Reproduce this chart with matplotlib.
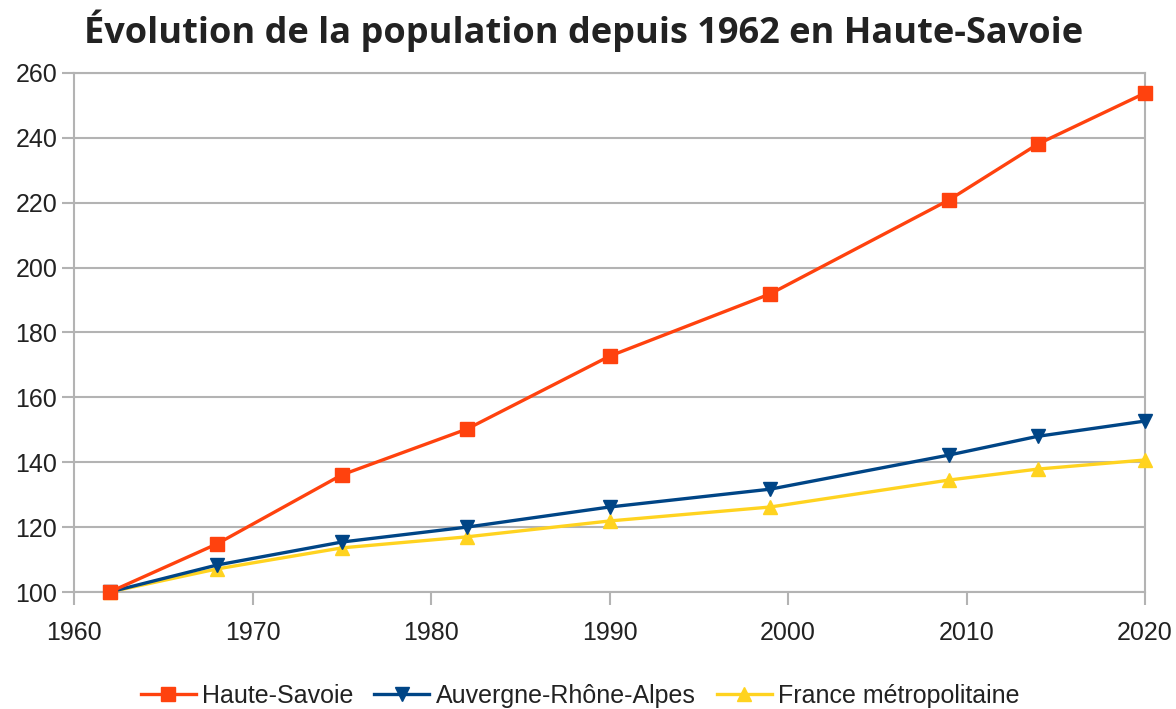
import matplotlib
matplotlib.use("Agg")
import matplotlib.pyplot as plt

years = [1962, 1968, 1975, 1982, 1990, 1999, 2009, 2014, 2020]
haute_savoie = [100, 114.8, 136.1, 150.2, 172.7, 191.9, 220.8, 238.1, 253.8]
auvergne = [100, 108.3, 115.4, 120.0, 126.2, 131.7, 142.2, 148.0, 152.7]
france = [100, 107.1, 113.6, 117.0, 121.9, 126.2, 134.5, 137.9, 140.7]
series_names = ["Haute-Savoie", "Auvergne-Rhône-Alpes", "France métropolitaine"]
title = "Évolution de la population depuis 1962 en Haute-Savoie"
xticks = [1960, 1970, 1980, 1990, 2000, 2010, 2020]
yticks = [100, 120, 140, 160, 180, 200, 220, 240, 260]

W, H = 1176, 709
fig = plt.figure(figsize=(W/100, H/100), dpi=100)
ax = fig.add_axes([74/W, 1-592/H, (1145-74)/W, (592-73)/H])

grey = "#b3b3b3"
h1, = ax.plot(years, haute_savoie, color="#ff420e", lw=2.4, marker="s", ms=10, label=series_names[0], zorder=5)
h2, = ax.plot(years, auvergne, color="#004586", lw=2.4, marker="v", ms=9.5, label=series_names[1], zorder=4)
h3, = ax.plot(years, france, color="#ffd320", lw=2.4, marker="^", ms=9.5, label=series_names[2], zorder=3)
for h in (h1, h2, h3):
    h.set_clip_on(False)

ax.set_xlim(1960, 2020)
ax.set_ylim(100, 260)
ax.set_xticks(xticks)
ax.set_yticks(yticks)
ax.yaxis.grid(True, color=grey, lw=1.5)
ax.set_axisbelow(True)
for s in ax.spines.values():
    s.set_color(grey)
    s.set_linewidth(1.5)
ax.tick_params(axis="both", colors=grey, width=1.5, length=9, labelcolor="#222222",
               labelsize=18, direction="out")
ax.tick_params(axis="x", pad=12)
ax.tick_params(axis="y", pad=3)
for lab in ax.get_xticklabels() + ax.get_yticklabels():
    lab.set_family("Liberation Sans")

fig.text(584/W, 1-31/H, title, ha="center", va="center", fontsize=26,
         fontweight="bold", family="Open Sans", color="#222222")

leg = fig.legend(handles=[h1, h2, h3], loc="center", bbox_to_anchor=(580/W, 1-696/H), ncol=3,
                 frameon=False, prop={"family": "Liberation Sans", "size": 18},
                 handlelength=2.2, columnspacing=0.85, handletextpad=0.25)
for t in leg.get_texts():
    t.set_color("#222222")

fig.savefig("out.png", dpi=100)
